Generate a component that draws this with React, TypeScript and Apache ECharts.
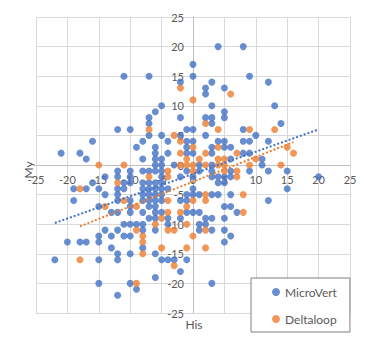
import React, { useEffect, useRef } from "react";
import * as echarts from "echarts";

const seriesNames = ["MicroVert", "Deltaloop"];
const axisRange = { min: -25, max: 25, interval: 5 };

const microVert: number[][] = [
  [-11, 15], [-7, 15], [-2, 14], [0, 17], [0, 15], [4, 20], [8, 20], [9, 15], [3, 14], [12, 14],
  [2, 13], [2, 12], [5, 13], [-5, 10], [3, 10], [13, 10], [-6, 9], [5, 9], [-7, 8], [-2, 8],
  [2, 8], [3, 8], [5, 8], [-7, 7], [3, 7], [14, 7], [-12, 6], [-10, 6], [-1, 6], [0, 6],
  [8, 6], [-7, 5], [-5, 5], [-2, 5], [2, 5], [10, 5], [-16, 4], [-8, 4], [-4, 4], [-1, 4],
  [0, 4], [4, 4], [5, 4], [8, 4], [9, 4], [12, 4], [-9, 3], [-6, 3], [-1, 3], [3, 3],
  [5, 3], [6, 3], [-21, 2], [-18, 2], [-6, 2], [-4, 2], [-1, 2], [0, 2], [3, 2], [8, 2],
  [9, 2], [-17, 1], [-8, 1], [-6, 1], [-5, 1], [6, 1], [11, 1], [-6, 0], [-5, 0], [-3, 0],
  [1, 0], [3, 0], [11, 0],
  [-12, -1], [-10, -1], [-8, -1], [-7, -1], [-6, -1], [-5, -1], [-1, -1], [1, -1], [3, -1], [6, -1],
  [9, -1], [12, -1], [15, -1],
  [-14, -2], [-12, -2], [-10, -2], [-5, -2], [-2, -2], [0, -2], [3, -2], [4, -2], [5, -2], [6, -2], [20, -2],
  [-16, -3], [-11, -3], [-10, -3], [-8, -3], [-7, -3], [-6, -3], [-5, -3], [4, -3], [5, -3],
  [-19, -4], [-17, -4], [-15, -4], [-12, -4], [-11, -4], [-8, -4], [-7, -4], [-6, -4], [-5, -4], [-4, -4], [0, -4], [15, -4],
  [-14, -5], [-12, -5], [-8, -5], [-7, -5], [-6, -5], [-5, -5], [-1, -5], [0, -5], [1, -5], [3, -5], [4, -5], [6, -5],
  [-19, -6], [-12, -6], [-10, -6], [-8, -6], [-7, -6], [-6, -6], [-5, -6], [-2, -6], [-1, -6], [12, -6],
  [-15, -7], [-10, -7], [-7, -7], [-6, -7], [5, -7], [6, -7],
  [-13, -8], [-12, -8], [-10, -8], [-8, -8], [-6, -8], [-5, -8], [-1, -8], [0, -8], [1, -8], [7, -8],
  [-7, -9], [-6, -9], [-4, -9], [-2, -9], [2, -9], [3, -9], [5, -9],
  [-11, -10], [-10, -10], [-9, -10], [-8, -10], [-4, -10], [1, -10], [2, -10],
  [-14, -11], [-12, -11], [-8, -11], [-6, -11], [1, -11], [3, -11], [5, -11],
  [-15, -12], [-13, -12], [-11, -12], [-10, -12], [6, -12],
  [-20, -13], [-18, -13], [-17, -13], [-15, -13], [5, -13],
  [-13, -14], [-8, -14],
  [-12, -15], [-10, -15], [-6, -15],
  [-22, -16], [-15, -16], [-12, -16], [-5, -16], [-4, -16], [-3, -16], [-1, -16],
  [-2, -18], [-6, -19], [-15, -20], [-10, -20], [3, -20], [-9, -21], [-12, -22],
];

const deltaloop: number[][] = [
  [-2, 13], [0, 11], [6, 12], [-7, 6], [2, 7], [4, 6], [9, 6], [13, 6], [-3, 5], [-2, 4],
  [0, 3], [4, 3], [15, 3], [-2, 2], [2, 2], [7, 2], [16, 2], [-1, 1], [1, 1], [4, 1],
  [5, 1], [10, 1], [-15, 0], [-11, 0], [-2, 0], [-1, 0], [0, 0], [2, 0], [4, 0], [5, 0],
  [9, 0], [14, 0],
  [-4, -1], [0, -1], [5, -1], [7, -1],
  [-7, -2], [-4, -2], [7, -2],
  [-12, -3], [-18, -4],
  [2, -5], [8, -5],
  [-11, -6], [-4, -6], [0, -6], [2, -6],
  [-14, -7], [-9, -7], [-1, -7],
  [-4, -8], [-2, -8], [8, -8],
  [-5, -9], [-6, -10], [-1, -10],
  [-9, -11], [-4, -11], [-3, -11], [2, -11],
  [-8, -12], [0, -12], [-8, -13],
  [-5, -14], [-1, -14], [2, -14],
  [-8, -15], [-18, -16], [-3, -17], [-9, -20],
];

const BLUE = "#4472C4";
const ORANGE = "#ED7D31";
const FONT = "Lato, 'Liberation Sans', sans-serif";

const W = 375;
const H = 348;
const GRID = { left: 36, right: 25, top: 17, bottom: 35 };

function trend(points: number[][]): number[][] {
  const n = points.length;
  let sx = 0, sy = 0, sxx = 0, sxy = 0;
  let xmin = Infinity, xmax = -Infinity;
  for (const [x, y] of points) {
    sx += x; sy += y; sxx += x * x; sxy += x * y;
    if (x < xmin) xmin = x;
    if (x > xmax) xmax = x;
  }
  const slope = (n * sxy - sx * sy) / (n * sxx - sx * sx);
  const intercept = (sy - slope * sx) / n;
  return [
    [xmin, slope * xmin + intercept],
    [xmax, slope * xmax + intercept],
  ];
}

export default function App() {
  const ref = useRef<HTMLDivElement>(null);
  useEffect(() => {
    document.body.style.margin = "0";
    if (!ref.current) return;
    const chart = echarts.init(ref.current, undefined, { renderer: "svg" });
    const plotW = W - GRID.left - GRID.right;
    const plotH = H - GRID.top - GRID.bottom;
    const span = axisRange.max - axisRange.min;
    // shift axes so they cross at the origin (like Excel's axis crossing at 0)
    const xAxisOffset = -plotH * ((0 - axisRange.min) / span);
    const yAxisOffset = -plotW * ((0 - axisRange.min) / span);
    const axisCommon = {
      type: "value" as const,
      min: axisRange.min,
      max: axisRange.max,
      interval: axisRange.interval,
      axisLine: { show: true, onZero: false, lineStyle: { color: "#bfbfbf", width: 1 } },
      axisTick: { show: false },
      splitLine: { show: true, lineStyle: { color: "#d9d9d9", width: 1 } },
      axisLabel: {
        color: "#595959",
        fontSize: 11,
        fontFamily: FONT,
        showMinLabel: true,
        showMaxLabel: true,
        margin: 9,
      },
    };
    chart.setOption({
      animation: false,
      backgroundColor: "#ffffff",
      grid: { ...GRID, containLabel: false },
      xAxis: { ...axisCommon, position: "bottom", offset: xAxisOffset },
      yAxis: { ...axisCommon, position: "left", offset: yAxisOffset },
      legend: {
        data: seriesNames,
        orient: "vertical",
        left: 251,
        top: 278,
        padding: [8, 13, 7, 21],
        itemGap: 15,
        itemWidth: 8,
        itemHeight: 8,
        backgroundColor: "#ffffff",
        borderColor: "#808080",
        borderWidth: 1,
        borderRadius: 0,
        textStyle: { color: "#595959", fontSize: 12, fontFamily: FONT },
      },
      graphic: [
        {
          type: "text",
          x: 28,
          y: 170,
          rotation: Math.PI / 2,
          style: {
            text: "My",
            fill: "#595959",
            font: `12px ${FONT}`,
            align: "center",
            verticalAlign: "middle",
          },
        },
        {
          type: "text",
          x: 194,
          y: 324,
          style: {
            text: "His",
            fill: "#595959",
            font: `12px ${FONT}`,
            align: "center",
            verticalAlign: "middle",
          },
        },
      ],
      series: [
        {
          name: seriesNames[0],
          type: "scatter",
          data: microVert,
          symbol: "circle",
          symbolSize: 7,
          itemStyle: { color: BLUE },
          z: 2,
        },
        {
          name: seriesNames[1],
          type: "scatter",
          data: deltaloop,
          symbol: "circle",
          symbolSize: 7,
          itemStyle: { color: ORANGE },
          z: 3,
        },
        {
          name: "MicroVert trend",
          type: "line",
          data: trend(microVert),
          symbol: "none",
          lineStyle: { color: BLUE, width: 2, type: [2, 2] },
          z: 4,
          silent: true,
        },
        {
          name: "Deltaloop trend",
          type: "line",
          data: trend(deltaloop),
          symbol: "none",
          lineStyle: { color: ORANGE, width: 2, type: [2, 2] },
          z: 4,
          silent: true,
        },
      ],
    });
    return () => chart.dispose();
  }, []);
  return <div ref={ref} style={{ width: W, height: H }} />;
}
